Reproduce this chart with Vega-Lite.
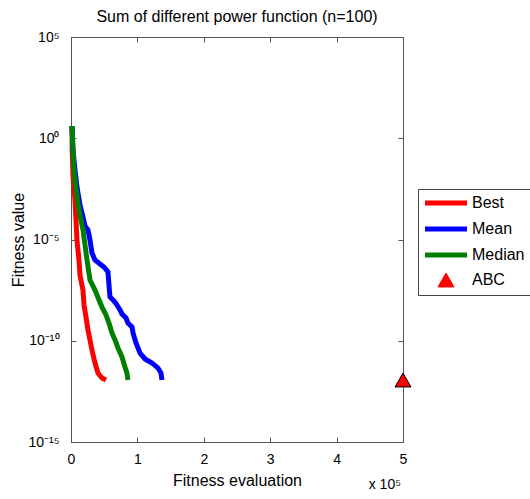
{
  "$schema": "https://vega.github.io/schema/vega-lite/v6.json",
  "width": 332,
  "height": 405,
  "autosize": "none",
  "padding": {"left": 71, "top": 37, "right": 127, "bottom": 57},
  "background": "white",
  "title": {"text": "Sum of different power function (n=100)", "fontSize": 16, "fontWeight": "normal", "font": "Liberation Sans", "color": "black", "offset": 5, "anchor": "middle"},
  "config": {
    "view": {"stroke": "#555", "strokeWidth": 1},
    "axis": {"grid": false, "labelFlush": false, "domainColor": "#555", "tickColor": "#555", "tickSize": -5, "labelFont": "Liberation Sans", "labelFontSize": 14, "labelColor": "black", "titleFont": "Liberation Sans", "titleFontSize": 16, "titleFontWeight": "normal", "titleColor": "black"}
  },
  "datasets": {
    "curves": [
      {"series": "Best", "i": 1, "e": 1500, "v": 4.03},
      {"series": "Best", "i": 2, "e": 1800, "v": 0.263},
      {"series": "Best", "i": 3, "e": 3000, "v": 0.0137},
      {"series": "Best", "i": 4, "e": 6000, "v": 8.9e-4},
      {"series": "Best", "i": 5, "e": 7500, "v": 9.2e-5},
      {"series": "Best", "i": 6, "e": 9000, "v": 9.4e-6},
      {"series": "Best", "i": 7, "e": 12000, "v": 9.7e-7},
      {"series": "Best", "i": 8, "e": 13500, "v": 1.77e-7},
      {"series": "Best", "i": 9, "e": 18000, "v": 3.2e-8},
      {"series": "Best", "i": 10, "e": 19600, "v": 5.8e-9},
      {"series": "Best", "i": 11, "e": 22600, "v": 1.49e-9},
      {"series": "Best", "i": 12, "e": 25600, "v": 3.4e-10},
      {"series": "Best", "i": 13, "e": 28600, "v": 1.09e-10},
      {"series": "Best", "i": 14, "e": 31600, "v": 3.5e-11},
      {"series": "Best", "i": 15, "e": 36100, "v": 8.0e-12},
      {"series": "Best", "i": 16, "e": 40700, "v": 2.55e-12},
      {"series": "Best", "i": 17, "e": 46700, "v": 1.45e-12},
      {"series": "Best", "i": 18, "e": 52700, "v": 1.15e-12},
      {"series": "Mean", "i": 1, "e": 1500, "v": 4.03},
      {"series": "Mean", "i": 2, "e": 3000, "v": 0.263},
      {"series": "Mean", "i": 3, "e": 6000, "v": 0.027},
      {"series": "Mean", "i": 4, "e": 9000, "v": 3.9e-3},
      {"series": "Mean", "i": 5, "e": 13500, "v": 5.1e-4},
      {"series": "Mean", "i": 6, "e": 18100, "v": 1.29e-4},
      {"series": "Mean", "i": 7, "e": 21100, "v": 4.65e-5},
      {"series": "Mean", "i": 8, "e": 25600, "v": 2.94e-5},
      {"series": "Mean", "i": 9, "e": 28600, "v": 9.4e-6},
      {"series": "Mean", "i": 10, "e": 31600, "v": 2.15e-6},
      {"series": "Mean", "i": 11, "e": 36100, "v": 9.7e-7},
      {"series": "Mean", "i": 12, "e": 43700, "v": 6.2e-7},
      {"series": "Mean", "i": 13, "e": 49700, "v": 4.4e-7},
      {"series": "Mean", "i": 14, "e": 55700, "v": 2.48e-7},
      {"series": "Mean", "i": 15, "e": 57200, "v": 5.7e-8},
      {"series": "Mean", "i": 16, "e": 58700, "v": 1.45e-8},
      {"series": "Mean", "i": 17, "e": 64800, "v": 9.2e-9},
      {"series": "Mean", "i": 18, "e": 69300, "v": 5.8e-9},
      {"series": "Mean", "i": 19, "e": 73800, "v": 3.3e-9},
      {"series": "Mean", "i": 20, "e": 76800, "v": 2.1e-9},
      {"series": "Mean", "i": 21, "e": 82800, "v": 1.33e-9},
      {"series": "Mean", "i": 22, "e": 85800, "v": 7.5e-10},
      {"series": "Mean", "i": 23, "e": 91900, "v": 4.8e-10},
      {"series": "Mean", "i": 24, "e": 93400, "v": 2.42e-10},
      {"series": "Mean", "i": 25, "e": 97900, "v": 7.7e-11},
      {"series": "Mean", "i": 26, "e": 103900, "v": 2.48e-11},
      {"series": "Mean", "i": 27, "e": 111400, "v": 1.26e-11},
      {"series": "Mean", "i": 28, "e": 122000, "v": 8.0e-12},
      {"series": "Mean", "i": 29, "e": 131000, "v": 4.5e-12},
      {"series": "Mean", "i": 30, "e": 135500, "v": 2.55e-12},
      {"series": "Mean", "i": 31, "e": 137000, "v": 1.15e-12},
      {"series": "Median", "i": 1, "e": 1500, "v": 4.03},
      {"series": "Median", "i": 2, "e": 3000, "v": 0.263},
      {"series": "Median", "i": 3, "e": 4500, "v": 0.027},
      {"series": "Median", "i": 4, "e": 7500, "v": 3.5e-3},
      {"series": "Median", "i": 5, "e": 10500, "v": 6.3e-4},
      {"series": "Median", "i": 6, "e": 13500, "v": 1.62e-4},
      {"series": "Median", "i": 7, "e": 18100, "v": 2.94e-5},
      {"series": "Median", "i": 8, "e": 21100, "v": 5.35e-6},
      {"series": "Median", "i": 9, "e": 24100, "v": 9.7e-7},
      {"series": "Median", "i": 10, "e": 28600, "v": 1.0e-7},
      {"series": "Median", "i": 11, "e": 36100, "v": 3.2e-8},
      {"series": "Median", "i": 12, "e": 42200, "v": 1.03e-8},
      {"series": "Median", "i": 13, "e": 46700, "v": 4.6e-9},
      {"series": "Median", "i": 14, "e": 52700, "v": 1.87e-9},
      {"series": "Median", "i": 15, "e": 57200, "v": 7.5e-10},
      {"series": "Median", "i": 16, "e": 61700, "v": 2.42e-10},
      {"series": "Median", "i": 17, "e": 66300, "v": 1.09e-10},
      {"series": "Median", "i": 18, "e": 70800, "v": 4.4e-11},
      {"series": "Median", "i": 19, "e": 76800, "v": 1.58e-11},
      {"series": "Median", "i": 20, "e": 81300, "v": 5.1e-12},
      {"series": "Median", "i": 21, "e": 84300, "v": 2.55e-12},
      {"series": "Median", "i": 22, "e": 85800, "v": 1.15e-12}
    ],
    "abc": [
      {"series": "ABC", "e": 500000, "v": 1.15e-12}
    ],
    "note": [
      {"e": 500000, "v": 1e-15, "t": "x 10⁵"}
    ]
  },
  "layer": [
    {
      "data": {"name": "curves"},
      "mark": {"type": "line", "strokeWidth": 5, "strokeJoin": "miter", "strokeCap": "butt"},
      "encoding": {
        "x": {"field": "e", "type": "quantitative", "scale": {"domain": [0, 500000], "nice": false, "zero": false},
          "axis": {"title": "Fitness evaluation", "values": [0, 100000, 200000, 300000, 400000, 500000], "labelExpr": "format(datum.value/100000, 'd')", "labelPadding": 15, "titlePadding": 6, "orient": "bottom"}},
        "y": {"field": "v", "type": "quantitative", "scale": {"type": "log", "domain": [1e-15, 100000], "nice": false},
          "axis": {"title": "Fitness value", "values": [1e-15, 1e-10, 1e-5, 1, 100000], "labelExpr": "datum.value >= 1e4 ? '10⁵' : datum.value >= 0.5 ? '10⁰' : datum.value >= 1e-6 ? '10⁻⁵' : datum.value >= 1e-11 ? '10⁻¹⁰' : '10⁻¹⁵'", "labelPadding": 17, "titlePadding": 1, "orient": "left"}},
        "color": {"field": "series", "type": "nominal",
          "scale": {"domain": ["Best", "Mean", "Median", "ABC"], "range": ["#ff0000", "#0000ff", "#008000", "#ff0000"]},
          "legend": {"orient": "none", "legendX": 347, "legendY": 152, "title": null, "strokeColor": "#444", "fillColor": "white", "padding": 6, "labelFont": "Liberation Sans", "labelFontSize": 16, "labelColor": "black", "rowPadding": 6, "labelOffset": 18, "symbolOffset": 14, "symbolSize": 1764,
            "encode": {"symbols": {"update": {
              "shape": {"signal": "datum.label === 'ABC' ? 'triangle-up' : 'stroke'"},
              "size": {"signal": "datum.label === 'ABC' ? 256 : 1764"},
              "strokeWidth": {"signal": "datum.label === 'ABC' ? 1 : 5"},
              "stroke": {"signal": "datum.label === 'ABC' ? 'black' : scale('color', datum.value)"},
              "fill": {"signal": "datum.label === 'ABC' ? '#ff0000' : 'transparent'"},
              "opacity": {"value": 1}
            }}}}},
        "order": {"field": "i", "type": "quantitative"}
      }
    },
    {
      "data": {"name": "abc"},
      "mark": {"type": "point", "shape": "triangle-up", "filled": true, "size": 256, "stroke": "black", "strokeWidth": 1, "opacity": 1},
      "encoding": {
        "x": {"field": "e", "type": "quantitative", "axis": {"orient": "top", "labels": false, "title": null, "values": [0, 100000, 200000, 300000, 400000, 500000]}},
        "y": {"field": "v", "type": "quantitative", "axis": {"orient": "right", "labels": false, "title": null, "values": [1e-15, 1e-10, 1e-5, 1, 100000]}},
        "color": {"field": "series", "type": "nominal"}
      }
    },
    {
      "data": {"name": "note"},
      "mark": {"type": "text", "font": "Liberation Sans", "fontSize": 14, "align": "right", "baseline": "middle", "dy": 43, "dx": -2, "color": "black"},
      "encoding": {
        "x": {"field": "e", "type": "quantitative", "axis": null},
        "y": {"field": "v", "type": "quantitative", "axis": null},
        "text": {"field": "t"}
      }
    }
  ],
  "resolve": {"axis": {"x": "independent", "y": "independent"}}
}
